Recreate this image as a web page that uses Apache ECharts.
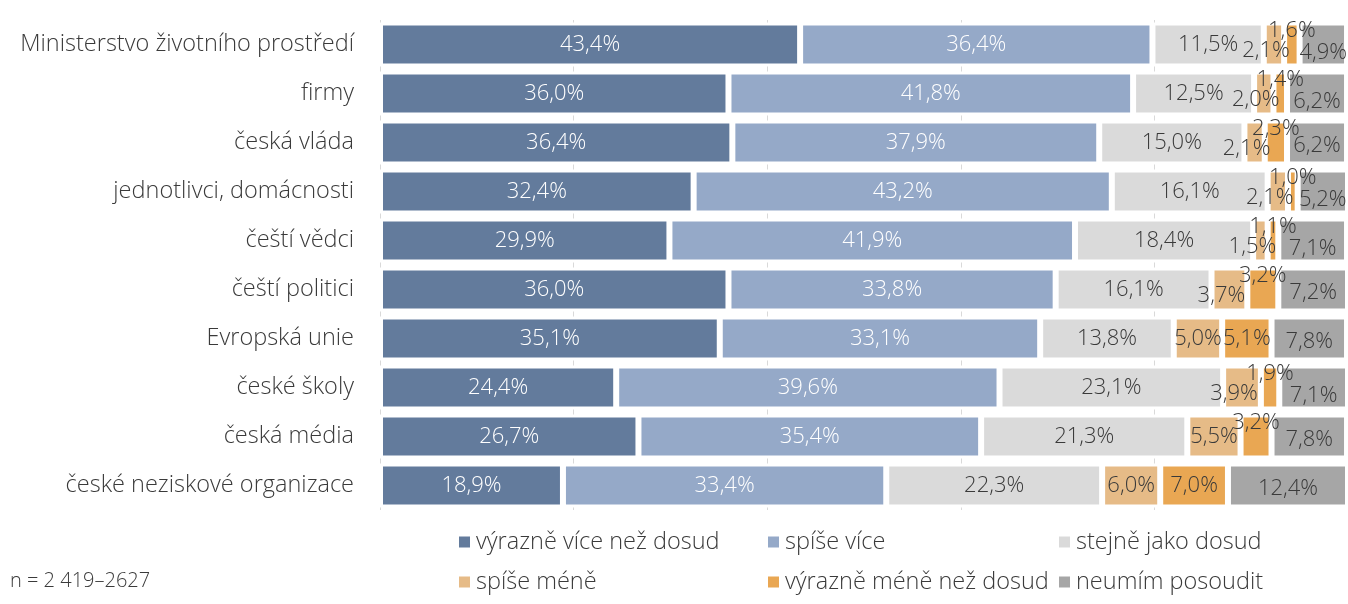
<!DOCTYPE html>
<html>
<head>
<meta charset="utf-8">
<script src="https://cdn.jsdelivr.net/npm/echarts@6/dist/echarts.min.js"></script>
<style>
  html, body { margin: 0; padding: 0; background: #fff; }
  #main { width: 1348px; height: 604px; }
</style>
</head>
<body>
<div id="main"></div>
<script>
var categories = ['Ministerstvo životního prostředí', 'firmy', 'česká vláda', 'jednotlivci, domácnosti',
    'čeští vědci', 'čeští politici', 'Evropská unie', 'české školy', 'česká média', 'české neziskové organizace'];

var seriesNames = ['výrazně více než dosud', 'spíše více', 'stejně jako dosud',
    'spíše méně', 'výrazně méně než dosud', 'neumím posoudit'];

var vyrazneVice = [43.4, 36.0, 36.4, 32.4, 29.9, 36.0, 35.1, 24.4, 26.7, 18.9];
var spiseVice   = [36.4, 41.8, 37.9, 43.2, 41.9, 33.8, 33.1, 39.6, 35.4, 33.4];
var stejne      = [11.5, 12.5, 15.0, 16.1, 18.4, 16.1, 13.8, 23.1, 21.3, 22.3];
var spiseMene   = [2.1, 2.0, 2.1, 2.1, 1.5, 3.7, 5.0, 3.9, 5.5, 6.0];
var vyrazneMene = [1.6, 1.4, 2.3, 1.0, 1.1, 3.2, 5.1, 1.9, 3.2, 7.0];
var neumim      = [4.9, 6.2, 6.2, 5.2, 7.1, 7.2, 7.8, 7.1, 7.8, 12.4];

var xTicks = [0, 20, 40, 60, 80, 100];
var note = 'n = 2 419–2627';

var colors = ['#637b9c', '#95a9c8', '#dadada', '#e6bb87', '#e9a753', '#a6a6a6'];
var labelColors = ['#ffffff', '#ffffff', '#3a3a3a', '#3a3a3a', '#3a3a3a', '#3a3a3a'];
var fontName = "'Open Sans', 'Noto Sans', sans-serif";

function fmt(v) {
    return v.toFixed(1).replace('.', ',') + '%';
}

// small segments get their label nudged off the bar so they stay readable
function labelShift(s, v, i) {
    if (s == 3 && v < 4.5) return [-8, 6];
    if (s == 4 && v < 4) return [0, -14];
    if (s == 5 && vyrazneMene[i] < 2) return [0, 8];
    if (s == 5) return [0, 3];
    return [0, 0];
}

var allData = [vyrazneVice, spiseVice, stejne, spiseMene, vyrazneMene, neumim];

var series = allData.map(function(arr, s) {
    return {
        name: seriesNames[s],
        type: 'bar',
        stack: 'total',
        barWidth: 44,
        itemStyle: { color: colors[s], borderColor: '#fff', borderWidth: 3 },
        label: {
            show: true,
            color: labelColors[s],
            fontFamily: fontName,
            fontWeight: 300,
            fontSize: 22,
            formatter: function(p) { return fmt(p.value); }
        },
        data: arr.map(function(v, i) {
            return { value: v, label: { offset: labelShift(s, v, i) } };
        })
    };
});

// one legend per item so the columns line up like the original
var legendPos = [
    { left: 452, top: 525 }, { left: 761, top: 525 }, { left: 1052, top: 525 },
    { left: 452, top: 565 }, { left: 761, top: 565 }, { left: 1052, top: 565 }
];
var legends = seriesNames.map(function(n, i) {
    return {
        data: [n],
        left: legendPos[i].left,
        top: legendPos[i].top,
        icon: 'rect',
        itemWidth: 13,
        itemHeight: 13,
        itemGap: 8,
        selectedMode: false,
        textStyle: { color: '#3a3a3a', fontSize: 23.5, fontWeight: 300, fontFamily: fontName }
    };
});

var chart = echarts.init(document.getElementById('main'));
chart.setOption({
    animation: false,
    color: colors,
    title: {
        text: note,
        left: 5,
        top: 566,
        textStyle: { color: '#3a3a3a', fontSize: 20, fontWeight: 300, fontFamily: fontName }
    },
    legend: legends,
    grid: { left: 380, right: 0, top: 20, bottom: 94, containLabel: false },
    xAxis: {
        type: 'value',
        min: xTicks[0],
        max: xTicks[xTicks.length - 1],
        interval: 20,
        axisLabel: { show: false },
        axisLine: { show: false },
        axisTick: { show: false },
        splitLine: { show: true, lineStyle: { color: '#d9d9d9', width: 1 } }
    },
    yAxis: {
        type: 'category',
        inverse: true,
        data: categories,
        axisLine: { show: false },
        axisTick: { show: false },
        axisLabel: { color: '#3a3a3a', fontSize: 23.5, fontWeight: 300, fontFamily: fontName, margin: 26 }
    },
    series: series
});
</script>
</body>
</html>
